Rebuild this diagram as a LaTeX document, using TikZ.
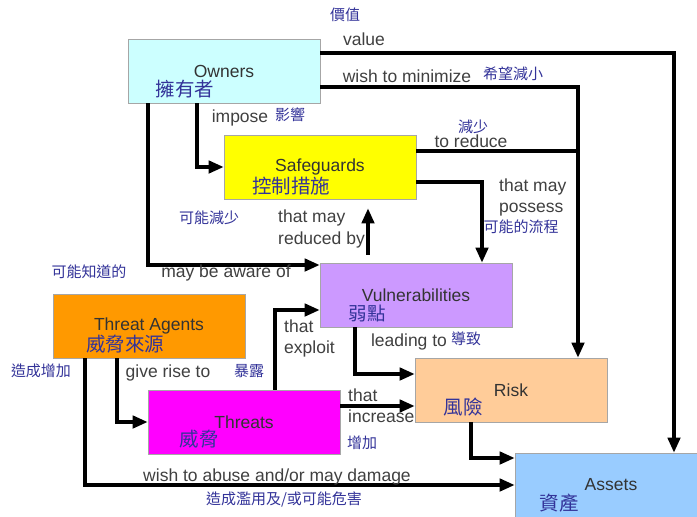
\documentclass[tikz,border=0pt]{standalone}
\usepackage{fontspec}
\setmainfont{Liberation Sans}
\newfontfamily\cjk{Noto Sans CJK TC}
\usetikzlibrary{arrows.meta}
\definecolor{cjkblue}{RGB}{51,51,153}
\definecolor{ownfill}{RGB}{204,255,255}
\definecolor{sfgfill}{RGB}{255,255,0}
\definecolor{vulfill}{RGB}{204,153,255}
\definecolor{tafill}{RGB}{255,153,0}
\definecolor{thrfill}{RGB}{255,0,255}
\definecolor{rskfill}{RGB}{255,204,153}
\definecolor{astfill}{RGB}{153,204,255}
\begin{document}
\begin{tikzpicture}[x=1pt,y=-1pt,
  box/.style={draw=black!35, line width=0.8pt, minimum width=192pt, minimum height=64pt,
    inner sep=0pt, text=black!80, font=\fontsize{17.5}{20}\selectfont},
  wire/.style={line width=3.2pt},
  conn/.style={wire, -{Triangle[length=15pt,width=12.5pt]}},
  en/.style={text=black!75, font=\fontsize{17.5}{21.5}\selectfont, inner sep=0pt},
  enl/.style={en, anchor=west, align=left},
  zh/.style={text=cjkblue, font=\cjk\fontsize{15}{17}\selectfont, inner sep=0pt},
  zhbig/.style={text=cjkblue, font=\cjk\fontsize{19.5}{22}\selectfont, inner sep=0pt}]

\fill[white] (0,0) rectangle (697,517);
\useasboundingbox (0,0) rectangle (697,517);
\clip (0,0) rectangle (697,517);

% entity boxes
\node[box, fill=ownfill] (own) at (224,71)  {Owners};
\node[box, fill=sfgfill] (sfg) at (320,167) {Safeguards};
\node[box, fill=vulfill] (vul) at (416,295) {Vulnerabilities};
\node[box, fill=tafill]  (ta)  at (149,326) {Threat Agents};
\node[box, fill=thrfill] (thr) at (244,422) {Threats};
\node[box, fill=rskfill] (rsk) at (511,390) {Risk};
\node[box, fill=astfill] (ast) at (611,485) {Assets};

% Chinese names inside the boxes
\node[zhbig] (ownzh) at (185,89)  {擁有者};
\node[zhbig] (sfgzh) at (291,186) {控制措施};
\node[zhbig, font=\cjk\fontsize{18.5}{22}\selectfont] (vulzh) at (367,313) {弱點};
\node[zhbig] (tazh)  at (125,344) {威脅來源};
\node[zhbig] (thrzh) at (199,439) {威脅};
\node[zhbig] (rskzh) at (463,407) {風險};
\node[zhbig] (astzh) at (559,503) {資產};

% helper points for the merged and horizontal runs
\coordinate (minX) at ([xshift=67pt]rsk.north);
\coordinate (redA) at ([yshift=16pt]sfg.east);
\coordinate (incY) at ([yshift=-16pt]rsk.west);

% connectors
\draw[conn] ([yshift=18pt]own.east) -| ([xshift=63pt]ast.north);
\draw[conn] ([yshift=-16pt]own.east) -| (minX);
\draw[wire] (redA) -- (redA -| minX);
\draw[conn] ([yshift=-15pt]sfg.east) -| ([xshift=66pt]vul.north);
\draw[conn] ([xshift=-27pt]own.south) |- (sfg.west);
\draw[conn] ([xshift=-76pt]own.south) |- ([yshift=30pt]vul.west);
\draw[conn, shorten <=8pt, shorten >=9pt] ([xshift=-48pt]vul.north) -- ([xshift=48pt]sfg.south);
\draw[conn] ([xshift=-32pt]ta.south) |- (thr.west);
\draw[conn] ([xshift=-64pt]ta.south) |- (ast.west);
\draw[conn] ([xshift=31pt]thr.north) |- ([yshift=-15pt]vul.west);
\draw[conn] (incY -| thr.east) -- (incY);
\draw[conn] ([xshift=-61pt]vul.south) |- ([yshift=16pt]rsk.west);
\draw[conn] ([xshift=-40pt]rsk.south) |- ([yshift=27pt]ast.west);

% English relation labels
\node[en] (lvalue) at (364,39) {value};
\node[en] (lmin)   at (407,76) {wish to minimize};
\node[en] (lred)   at (471,141) {to reduce};
\node[enl] (lpos)  at (499,197.5) {that may\\possess};
\node[en] (limp)   at (240,118) {impose};
\node[enl] (lrby)  at (278,229) {that may\\reduced by};
\node[en] (laware) at (226,273) {may be aware of};
\node[en] (lrise)  at (168,373) {give rise to};
\node[enl] (lexp)  at (284,338.5) {that\\exploit};
\node[en] (llead)  at (409,342) {leading to};
\node[enl] (linc)  at (348,405.5) {that\\increase};
\node[en] (labuse) at (277,477) {wish to abuse and/or may damage};

% Chinese relation labels
\node[zh] (zvalue) at (345,15)  {價值};
\node[zh] (zmin)   at (513,74)  {希望減小};
\node[zh] (zred)   at (473,127) {減少};
\node[zh] (zpos)   at (521,227) {可能的流程};
\node[zh] (zimp)   at (290,115) {影響};
\node[zh] (zrby)   at (209,218) {可能減少};
\node[zh] (zaware) at (89,272)  {可能知道的};
\node[zh] (zadd)   at (41,371)  {造成增加};
\node[zh] (zexp)   at (249,371) {暴露};
\node[zh] (zlead)  at (466,339) {導致};
\node[zh] (zinc)   at (362,443) {增加};
\node[zh] (zabuse) at (284,499) {造成濫用及/或可能危害};
\end{tikzpicture}
\end{document}
